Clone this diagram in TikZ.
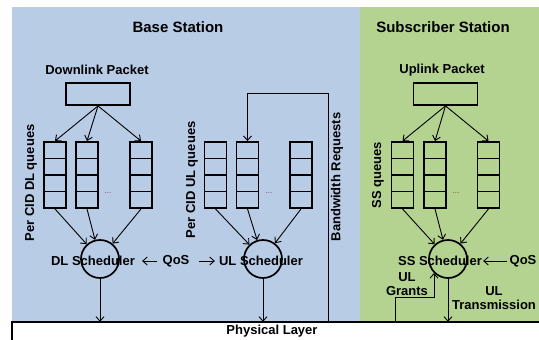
\documentclass[tikz,border=0pt]{standalone}
\usepackage{fontspec}
\setmainfont{Liberation Sans}
\usetikzlibrary{arrows.meta}
\definecolor{bsblue}{RGB}{185,204,230}
\definecolor{ssgreen}{RGB}{180,211,145}
\definecolor{dotc}{RGB}{120,70,70}
\begin{document}
\begin{tikzpicture}[x=1pt,y=-1pt,
  lbl/.style={font=\bfseries\fontsize{13}{14}\selectfont, inner sep=1pt, align=center},
  ttl/.style={font=\bfseries\fontsize{15}{18}\selectfont, inner sep=1pt},
  queue/.style={draw, line width=1.9pt, minimum width=22pt, minimum height=66pt, inner sep=0pt,
    path picture={\foreach \k in {1,2,3}
      \draw[line width=1.9pt] ([yshift=-\k*16.5pt]path picture bounding box.north west) -- ([yshift=-\k*16.5pt]path picture bounding box.north east);}},
  sched/.style={circle, draw, line width=1.7pt, minimum size=38pt, inner sep=0pt},
  pkt/.style={draw, line width=1.8pt, minimum width=64pt, minimum height=22pt, inner sep=0pt},
  arr/.style={-{Straight Barb[length=4.5pt,width=8pt]}, line width=0.9pt},
  dotsn/.style={font=\fontsize{8}{8}\selectfont, text=dotc, inner sep=0pt}
]
\useasboundingbox (0,0) rectangle (539,340);
% backgrounds
\fill[bsblue] (12,7) rectangle (360,322);
\fill[ssgreen] (360,7) rectangle (539,322);
\fill[white] (12,322) rectangle (539,340);

% titles
\node[ttl] (bs) at (178,27) {Base Station};
\node[ttl] (ss) at (443,27) {Subscriber Station};

% packets
\node[lbl] (dlpl) at (97,70) {Downlink Packet};
\node[pkt] (dlp) at (98,94) {};
\node[lbl] (ulpl) at (442,70) {Uplink Packet};
\node[pkt] (ssp) at (445.5,94) {};

% queues
\node[queue] (d1) at (55,175) {};
\node[queue] (d2) at (87,175) {};
\node[queue] (d3) at (141,175) {};
\node[queue] (u1) at (215.5,175) {};
\node[queue] (u2) at (247.5,175) {};
\node[queue] (u3) at (301,175) {};
\node[queue] (s1) at (402.5,175) {};
\node[queue] (s2) at (435,175) {};
\node[queue] (s3) at (488.5,175) {};
\node[dotsn] (dd) at (108,193) {...};
\node[dotsn] (ud) at (269,193) {...};
\node[dotsn] (sd) at (456,193) {...};

% queue labels
\node[lbl, rotate=90] (dlql) at (31,183) {Per CID DL queues};
\node[lbl, rotate=90] (ulql) at (192,180) {Per CID UL queues};
\node[lbl, rotate=90] (ssql) at (378,175) {SS queues};
\node[lbl, rotate=90] (bwl) at (337,177) {Bandwidth Requests};

% schedulers
\node[sched] (dls) at (100,259) {};
\node[sched] (uls) at (263,259) {};
\node[sched] (sss) at (448,259) {};
\node[lbl] (dlst) at (93,261) {DL Scheduler};
\node[lbl] (ulst) at (261,261) {UL Scheduler};
\node[lbl] (ssst) at (440,261) {SS Scheduler};
\node[lbl] (qos1) at (176,261) {QoS};
\node[lbl] (qos2) at (523,261) {QoS};
\node[lbl] (ulg) at (407,284) {UL\\Grants};
\node[lbl] (ult) at (494,298.5) {UL\\Transmission};

% physical layer
\node[lbl, minimum width=520pt, minimum height=18pt, inner sep=0pt] (phy) at (272,331) {Physical Layer};
\draw[line width=1.6pt] (phy.south west) -- (phy.north west) -- ([xshift=20pt]phy.north east);

% packet to queues
\foreach \q in {d1,d2,d3} \draw[arr] (dlp.south) -- (\q.north);
\foreach \q in {s1,s2,s3} \draw[arr] (ssp.south) -- (\q.north);

% queues to schedulers
\foreach \q in {d1,d2,d3} \draw[arr] (\q.south) -- (dls);
\foreach \q in {u1,u2,u3} \draw[arr] (\q.south) -- (uls);
\foreach \q in {s1,s2,s3} \draw[arr] (\q.south) -- (sss);

% schedulers to physical layer
\draw[arr] (dls.south) -- (dls.south |- phy.north);
\draw[arr] (uls.south) -- (uls.south |- phy.north);
\draw[arr] (sss.south) -- (sss.south |- phy.north);

% bandwidth requests
\coordinate (bw1) at (328,93);
\draw[arr] (bw1 |- phy.north) -- (bw1) -| (u2.north);

% QoS arrows
\draw[arr] ([xshift=-4pt]qos1.west) -- ([xshift=6pt]dlst.east);
\draw[arr] ([xshift=8pt]qos1.east) -- ([xshift=-3pt]ulst.west);
\draw[arr] ([xshift=-1pt]qos2.west) -- (ssst.east);

% UL grants
\coordinate (g1) at (395,297);
\draw[arr] (g1 |- phy.north) -- (g1) -| (sss.south west);
\end{tikzpicture}
\end{document}
